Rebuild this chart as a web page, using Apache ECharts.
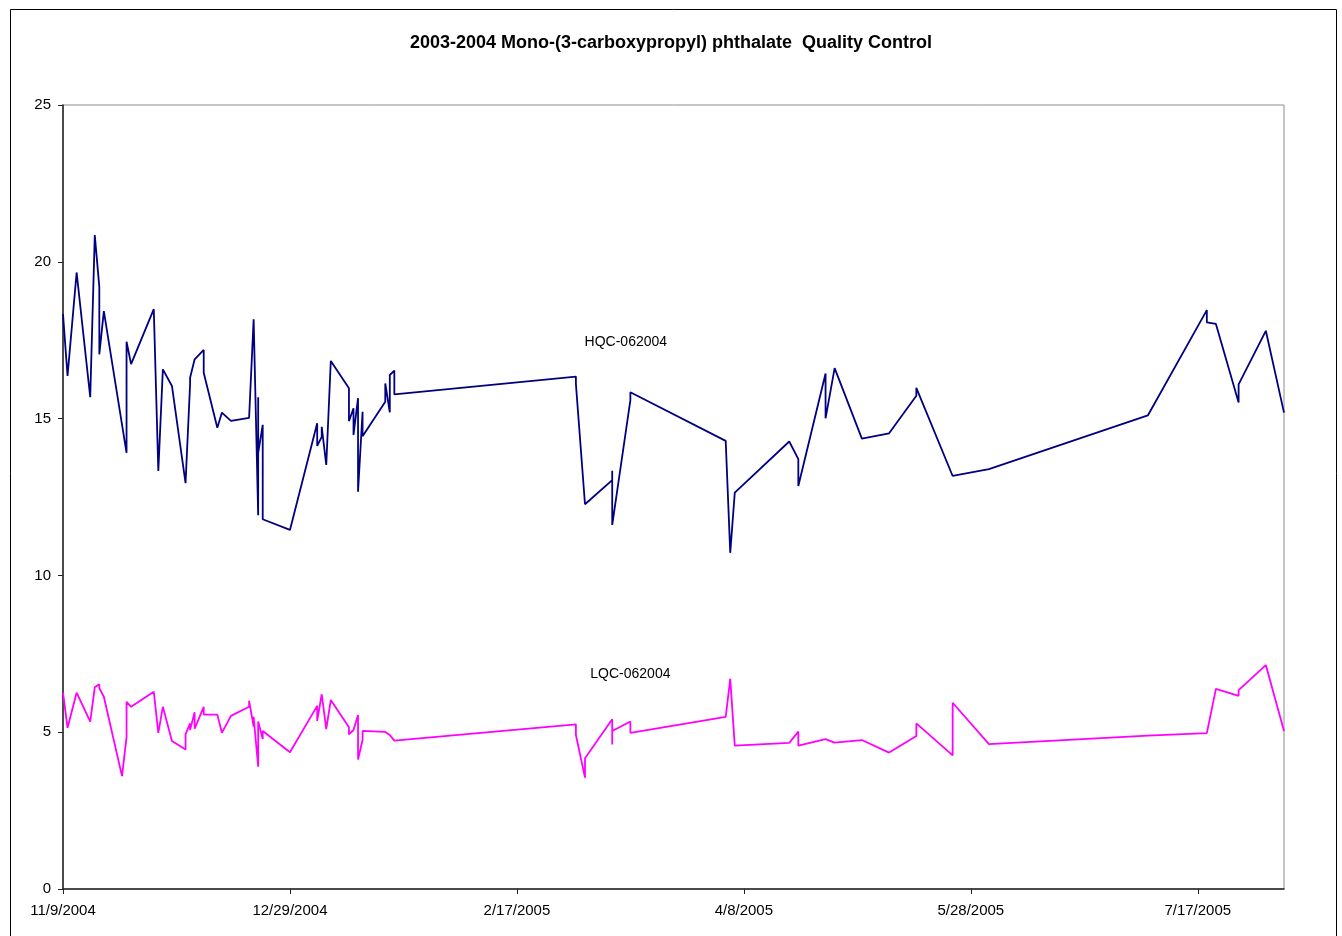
<!DOCTYPE html>
<html><head><meta charset="utf-8">
<script src="https://cdn.jsdelivr.net/npm/echarts@6/dist/echarts.min.js"></script>
<style>html,body{margin:0;padding:0;background:#fff}#c{width:1342px;height:936px}</style>
</head><body><div id="c"></div><script>
const chartTitle = '2003-2004 Mono-(3-carboxypropyl) phthalate  Quality Control';
const startDate = '2004-11-09';
const endDate = '2005-08-05';
const yTicks = [0, 5, 10, 15, 20, 25];
const xTickDays = [0, 50, 100, 150, 200, 250];

const hqcName = 'HQC-062004';
const hqcDates = ['2004-11-09','2004-11-10','2004-11-12','2004-11-15','2004-11-16','2004-11-17','2004-11-17','2004-11-18',
  '2004-11-23','2004-11-23','2004-11-24','2004-11-29','2004-11-30','2004-12-01','2004-12-03','2004-12-06','2004-12-07','2004-12-07',
  '2004-12-08','2004-12-10','2004-12-10','2004-12-13','2004-12-14','2004-12-16','2004-12-20','2004-12-21','2004-12-22','2004-12-22',
  '2004-12-22','2004-12-23','2004-12-23','2004-12-29','2005-01-04','2005-01-04','2005-01-05','2005-01-05','2005-01-06','2005-01-07',
  '2005-01-11','2005-01-11','2005-01-12','2005-01-12','2005-01-13','2005-01-13','2005-01-14','2005-01-14','2005-01-19','2005-01-19',
  '2005-01-20','2005-01-20','2005-01-21','2005-01-21','2005-03-02','2005-03-02','2005-03-04','2005-03-10','2005-03-10','2005-03-10',
  '2005-03-14','2005-03-14','2005-04-04','2005-04-05','2005-04-06','2005-04-18','2005-04-20','2005-04-20','2005-04-26','2005-04-26',
  '2005-04-28','2005-05-04','2005-05-10','2005-05-16','2005-05-16','2005-05-24','2005-06-01','2005-07-06','2005-07-19','2005-07-19',
  '2005-07-21','2005-07-26','2005-07-26','2005-08-01','2005-08-05'];
const hqcValues = [18.33,16.36,19.66,15.68,20.85,19.2,17.05,18.43,
  13.91,17.45,16.74,18.49,13.33,16.57,16.04,12.94,16.1,16.3,
  16.89,17.19,16.46,14.71,15.19,14.93,15.02,18.17,11.92,15.68,
  13.9,14.8,11.79,11.45,14.85,14.13,14.42,14.74,13.52,16.84,
  15.97,14.92,15.33,14.48,15.65,12.67,15.22,14.44,15.54,16.12,
  15.2,16.39,16.53,15.77,16.34,16.1,12.27,13.04,13.34,11.61,
  15.59,15.84,14.29,10.72,12.64,14.27,13.71,12.85,16.44,15.01,
  16.61,14.36,14.53,15.73,15.98,13.17,13.39,15.1,18.46,18.07,
  18.02,15.51,16.09,17.8,15.19];

const lqcName = 'LQC-062004';
const lqcDates = ['2004-11-09','2004-11-10','2004-11-12','2004-11-15','2004-11-16','2004-11-17','2004-11-17','2004-11-18',
  '2004-11-22','2004-11-23','2004-11-23','2004-11-24','2004-11-29','2004-11-30','2004-12-01','2004-12-03','2004-12-06','2004-12-06',
  '2004-12-07','2004-12-07','2004-12-08','2004-12-08','2004-12-10','2004-12-10','2004-12-13','2004-12-14','2004-12-16','2004-12-20',
  '2004-12-20','2004-12-21','2004-12-21','2004-12-22','2004-12-22','2004-12-23','2004-12-23','2004-12-29','2005-01-04','2005-01-04',
  '2005-01-05','2005-01-06','2005-01-07','2005-01-11','2005-01-11','2005-01-12','2005-01-13','2005-01-13','2005-01-14','2005-01-14',
  '2005-01-19','2005-01-20','2005-01-21','2005-03-02','2005-03-02','2005-03-04','2005-03-04','2005-03-10','2005-03-10','2005-03-10',
  '2005-03-14','2005-03-14','2005-04-04','2005-04-05','2005-04-06','2005-04-18','2005-04-20','2005-04-20','2005-04-26','2005-04-28',
  '2005-05-04','2005-05-10','2005-05-16','2005-05-16','2005-05-24','2005-05-24','2005-06-01','2005-07-06','2005-07-19','2005-07-21',
  '2005-07-26','2005-07-26','2005-08-01','2005-08-05'];
const lqcValues = [6.26,5.14,6.26,5.34,6.43,6.53,6.4,6.13,
  3.6,4.84,5.97,5.81,6.29,4.98,5.81,4.72,4.45,4.93,
  5.28,5.07,5.64,5.11,5.81,5.56,5.56,4.98,5.52,5.81,
  6.0,5.18,5.49,3.9,5.34,4.78,5.04,4.36,5.84,5.36,
  6.21,5.1,6.03,5.16,4.93,5.07,5.55,4.13,4.75,5.04,
  5.01,4.91,4.73,5.25,4.91,3.55,4.17,5.41,4.61,5.04,
  5.34,4.98,5.49,6.7,4.57,4.66,5.02,4.57,4.78,4.67,
  4.75,4.35,4.88,5.28,4.26,5.94,4.62,4.89,4.97,6.38,
  6.16,6.34,7.14,5.04];

const DAY = 86400000;
const base = Date.parse(startDate);
const toDay = d => Math.round((Date.parse(d) - base) / DAY);
const fmtDay = v => { const t = new Date(base + v * DAY); return (t.getUTCMonth() + 1) + '/' + t.getUTCDate() + '/' + t.getUTCFullYear(); };
const pairs = (ds, vs) => ds.map((d, i) => [toDay(d), vs[i]]);

const chart = echarts.init(document.getElementById('c'), null, {renderer: 'canvas'});
const font = 'Liberation Sans, Arial, sans-serif';
chart.setOption({
  animation: false,
  backgroundColor: '#fff',
  title: {text: chartTitle, left: 'center', top: 29, textStyle: {fontFamily: font, fontSize: 18, fontWeight: 'bold', color: '#000'}},
  grid: {left: 63, right: 58, top: 105, bottom: 47, show: true, borderColor: '#8c8c8c', borderWidth: 1, backgroundColor: '#fff'},
  xAxis: {
    type: 'value', min: 0, max: toDay(endDate), interval: 50,
    axisLine: {show: true, lineStyle: {color: '#222', width: 1.5}},
    axisTick: {show: true, length: 5, customValues: xTickDays, lineStyle: {color: '#222'}},
    axisLabel: {customValues: xTickDays, formatter: fmtDay, fontFamily: font, fontSize: 15, color: '#000', margin: 14},
    splitLine: {show: false}
  },
  yAxis: {
    type: 'value', min: yTicks[0], max: yTicks[yTicks.length - 1], interval: 5,
    axisLine: {show: true, lineStyle: {color: '#222', width: 1.5}},
    axisTick: {show: true, length: 5, lineStyle: {color: '#222'}},
    axisLabel: {fontFamily: font, fontSize: 15, color: '#000', margin: 12},
    splitLine: {show: false}
  },
  series: [
    {name: hqcName, type: 'line', data: pairs(hqcDates, hqcValues), showSymbol: false, symbol: 'none',
     lineStyle: {color: '#000080', width: 1.8}, itemStyle: {color: '#000080'},
     markPoint: {symbol: 'circle', symbolSize: 0, data: [{coord: [124, 17.45]}],
       label: {show: true, position: 'inside', formatter: hqcName, fontFamily: font, fontSize: 14, color: '#000'}}},
    {name: lqcName, type: 'line', data: pairs(lqcDates, lqcValues), showSymbol: false, symbol: 'none',
     lineStyle: {color: '#FF00FF', width: 1.8}, itemStyle: {color: '#FF00FF'},
     markPoint: {symbol: 'circle', symbolSize: 0, data: [{coord: [125, 6.85]}],
       label: {show: true, position: 'inside', formatter: lqcName, fontFamily: font, fontSize: 14, color: '#000'}}}
  ],
  graphic: [{type: 'rect', left: 8, top: 7, shape: {width: 1326, height: 1000}, style: {fill: null, stroke: '#000', lineWidth: 1}, silent: true, z: -1}]
});
</script></body></html>
